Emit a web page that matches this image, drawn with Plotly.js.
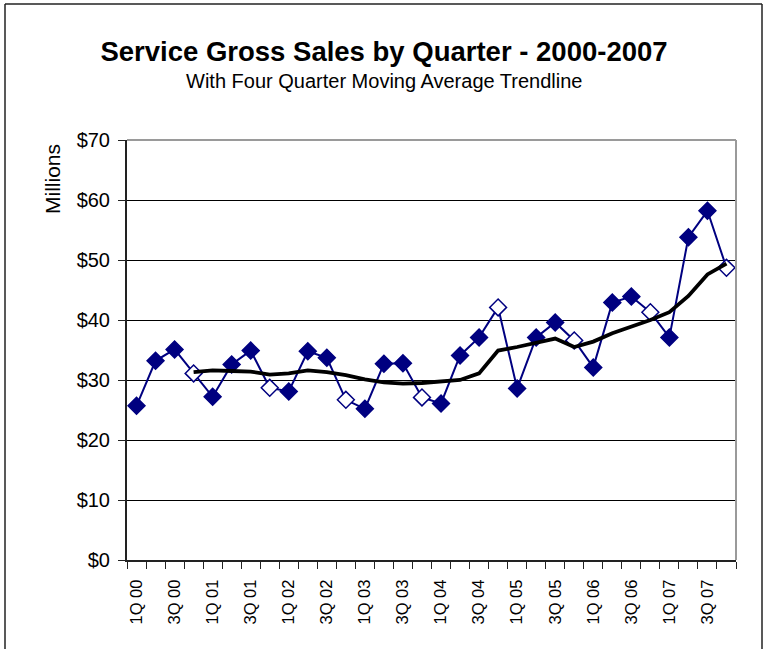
<!DOCTYPE html>
<html>
<head>
<meta charset="utf-8">
<script src="https://cdn.plot.ly/plotly-3.0.1.min.js"></script>
<style>
  html, body { margin: 0; padding: 0; background: #fff; }
  #chart { width: 768px; height: 649px; }
</style>
</head>
<body>
<div id="chart"></div>
<script>
// Quarter categories 2000-2007
const quarters = [
  "1Q 00","2Q 00","3Q 00","4Q 00",
  "1Q 01","2Q 01","3Q 01","4Q 01",
  "1Q 02","2Q 02","3Q 02","4Q 02",
  "1Q 03","2Q 03","3Q 03","4Q 03",
  "1Q 04","2Q 04","3Q 04","4Q 04",
  "1Q 05","2Q 05","3Q 05","4Q 05",
  "1Q 06","2Q 06","3Q 06","4Q 06",
  "1Q 07","2Q 07","3Q 07","4Q 07"
];
// Service gross sales, millions of dollars
const sales = [
  25.7, 33.2, 35.1, 31.1,
  27.2, 32.6, 34.9, 28.7,
  28.1, 34.8, 33.7, 26.7,
  25.2, 32.7, 32.8, 27.1,
  26.1, 34.1, 37.1, 42.1,
  28.6, 37.1, 39.6, 36.6,
  32.1, 42.9, 43.9, 41.3,
  37.1, 53.8, 58.2, 48.7
];
// Four quarter moving average trendline (starts at 4Q 00)
const movingAvgStart = "4Q 00";
const movingAvg = [
  31.3, 31.6, 31.5, 31.4, 30.9, 31.1, 31.6, 31.3,
  30.8, 30.1, 29.6, 29.4, 29.5, 29.7, 30.0, 31.1,
  34.9, 35.5, 36.2, 36.9, 35.5, 36.4, 37.8, 38.9,
  40.0, 41.3, 44.0, 47.6, 49.4
];
const yTicks = [0, 10, 20, 30, 40, 50, 60, 70];

const FONT = "Liberation Sans, Arial, sans-serif";
const NAVY = "#000080";

const xIdx = quarters.map((q, i) => i);
const isQ4 = quarters.map(q => q.startsWith("4Q"));
const maStart = quarters.indexOf(movingAvgStart);
const maX = movingAvg.map((v, i) => maStart + i);

const labelIdx = xIdx.filter(i => quarters[i].startsWith("1Q") || quarters[i].startsWith("3Q"));

const traces = [
  {
    type: "scatter",
    mode: "lines+markers",
    x: xIdx,
    y: sales,
    text: quarters,
    line: { color: NAVY, width: 2 },
    marker: {
      symbol: "diamond",
      size: 13,
      color: isQ4.map(b => b ? "#ffffff" : NAVY),
      line: { color: NAVY, width: 1.5 }
    },
    hoverinfo: "text+y",
    showlegend: false
  },
  {
    type: "scatter",
    mode: "lines",
    x: maX,
    y: movingAvg,
    line: { color: "#000000", width: 3.8 },
    hoverinfo: "y",
    showlegend: false
  }
];

// plot area in pixels: left 127, right 736, top 140, bottom 560
const L = 127, R = 32, T = 140, B = 89, W = 768, H = 649;
const pw = W - L - R, ph = H - T - B;
const px = x => (x - L) / pw;
const py = y => (H - B - y) / ph;

const layout = {
  width: W,
  height: H,
  margin: { l: L, r: R, t: T, b: B, pad: 0 },
  paper_bgcolor: "#ffffff",
  plot_bgcolor: "#ffffff",
  font: { family: FONT, color: "#000000", size: 18 },
  title: {
    text: "Service Gross Sales by Quarter - 2000-2007",
    font: { family: FONT, size: 27.5, color: "#000000", weight: "bold" },
    x: 0.5,
    xref: "container",
    xanchor: "center",
    y: 1 - 51 / H,
    yref: "container",
    yanchor: "middle"
  },
  xaxis: {
    range: [-0.5, quarters.length - 0.5],
    tickmode: "array",
    tickvals: labelIdx,
    ticktext: labelIdx.map(i => quarters[i]),
    tickangle: -90,
    ticks: "",
    ticklabelstandoff: 11,
    tickfont: { family: FONT, size: 16.5, color: "#000000" },
    minor: {
      tickmode: "linear",
      tick0: -0.5,
      dtick: 1,
      ticks: "outside",
      ticklen: 7,
      tickwidth: 1,
      tickcolor: "#222222",
      showgrid: false
    },
    showgrid: false,
    zeroline: false,
    showline: true,
    linecolor: "#222222",
    linewidth: 2,
    fixedrange: true
  },
  yaxis: {
    range: [0, 70],
    tickmode: "array",
    tickvals: yTicks,
    ticktext: yTicks.map(v => "$" + v),
    ticks: "outside",
    ticklen: 7,
    tickwidth: 1,
    tickcolor: "#222222",
    ticklabelstandoff: 4,
    tickfont: { family: FONT, size: 20, color: "#000000" },
    showgrid: true,
    gridcolor: "#000000",
    gridwidth: 1,
    zeroline: false,
    showline: true,
    linecolor: "#222222",
    linewidth: 2,
    fixedrange: true
  },
  annotations: [
    {
      text: "With Four Quarter Moving Average Trendline",
      xref: "paper", yref: "paper",
      x: px(384), y: py(80.5),
      xanchor: "center", yanchor: "middle",
      showarrow: false,
      font: { family: FONT, size: 20, color: "#000000" }
    },
    {
      text: "Millions",
      xref: "paper", yref: "paper",
      x: px(52), y: py(179),
      xanchor: "center", yanchor: "middle",
      textangle: -90,
      showarrow: false,
      font: { family: FONT, size: 21, color: "#000000" }
    }
  ],
  shapes: [
    // plot area border (top and right, gray)
    { type: "line", xref: "paper", yref: "paper", x0: 0, x1: 1, y0: 1, y1: 1,
      line: { color: "#9a9a9a", width: 2 }, layer: "above" },
    { type: "line", xref: "paper", yref: "paper", x0: 1, x1: 1, y0: 0, y1: 1,
      line: { color: "#9a9a9a", width: 2 }, layer: "above" },
    // outer chart frame
    { type: "line", xref: "paper", yref: "paper", x0: px(5), x1: px(5), y0: py(4), y1: py(660),
      line: { color: "#222222", width: 1.5 } },
    { type: "line", xref: "paper", yref: "paper", x0: px(5), x1: px(762), y0: py(4), y1: py(4),
      line: { color: "#222222", width: 1.5 } },
    { type: "line", xref: "paper", yref: "paper", x0: px(762), x1: px(762), y0: py(4), y1: py(660),
      line: { color: "#222222", width: 1.5 } }
  ]
};

Plotly.newPlot("chart", traces, layout, { displayModeBar: false, staticPlot: true });
</script>
</body>
</html>
